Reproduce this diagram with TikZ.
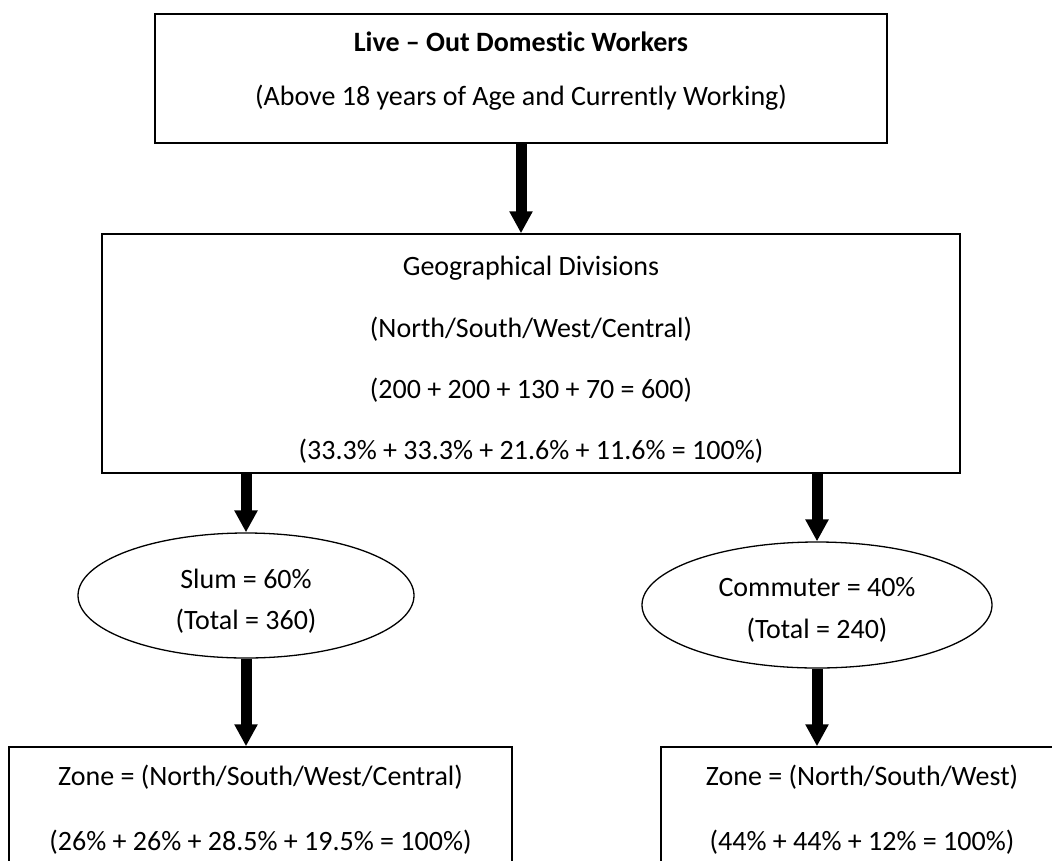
\documentclass[tikz,border=0pt]{standalone}
\usepackage{fontspec}
\setmainfont{Carlito}[Ligatures=NoCommon]
\usetikzlibrary{arrows.meta,shapes.geometric}
\tikzset{
  box/.style={draw=black, line width=1.5pt, rectangle, inner sep=0pt},
  oval/.style={draw=black, line width=1.3pt, ellipse, inner sep=0pt},
  txt/.style={inner sep=0pt, font=\fontsize{28}{33}\selectfont},
  bigarrow/.style={line width=11pt, -{Triangle[width=22pt,length=22pt]}},
}
\begin{document}
\begin{tikzpicture}[x=1pt,y=-1pt]
\useasboundingbox (0,0) rectangle (1052,860);
\clip (0,0) rectangle (1052,860);
\fill[white] (0,0) rectangle (1052,860);
% top box
\node[box, minimum width=732pt, minimum height=129pt] (top) at (521,78.5) {};
\node[txt, font=\fontsize{28}{33}\selectfont\bfseries] (t1) at (521,42) {Live – Out Domestic Workers};
\node[txt] (t2) at (521,98) {(Above 18 years of Age and Currently Working)};
% geo box
\node[box, minimum width=858pt, minimum height=239pt] (geo) at (531,353.5) {};
\node[txt] (g1) at (531,268) {Geographical Divisions};
\node[txt] (g2) at (531,329) {(North/South/West/Central)};
\node[txt] (g3) at (531,390) {(200 + 200 + 130 + 70 = 600)};
\node[txt] (g4) at (531,451) {(33.3\% + 33.3\% + 21.6\% + 11.6\% = 100\%)};
% ellipses
\node[oval, minimum width=336pt, minimum height=125pt] (slum) at (246,595.5) {};
\node[txt] (s1) at (246,579) {Slum = 60\%};
\node[txt] (s2) at (246,621) {(Total = 360)};
\node[oval, minimum width=350pt, minimum height=126pt] (comm) at (817,605) {};
\node[txt] (c1) at (817,587) {Commuter = 40\%};
\node[txt] (c2) at (817,630) {(Total = 240)};
% bottom boxes
\node[box, minimum width=503pt, minimum height=200pt] (zl) at (260.5,847) {};
\node[txt] (z1) at (260.5,777) {Zone = (North/South/West/Central)};
\node[txt] (z2) at (260.5,842) {(26\% + 26\% + 28.5\% + 19.5\% = 100\%)};
\node[box, minimum width=402pt, minimum height=200pt] (zr) at (862,847) {};
\node[txt] (r1) at (862,777) {Zone = (North/South/West)};
\node[txt] (r2) at (862,842) {(44\% + 44\% + 12\% = 100\%)};
% arrows
\draw[bigarrow] (top.south) -- (top.south |- geo.north);
\draw[bigarrow] (slum.north |- geo.south) -- (slum.north);
\draw[bigarrow] (comm.north |- geo.south) -- (comm.north);
\draw[bigarrow] (slum.south) -- (slum.south |- zl.north);
\draw[bigarrow] (comm.south) -- (comm.south |- zr.north);
\end{tikzpicture}
\end{document}
